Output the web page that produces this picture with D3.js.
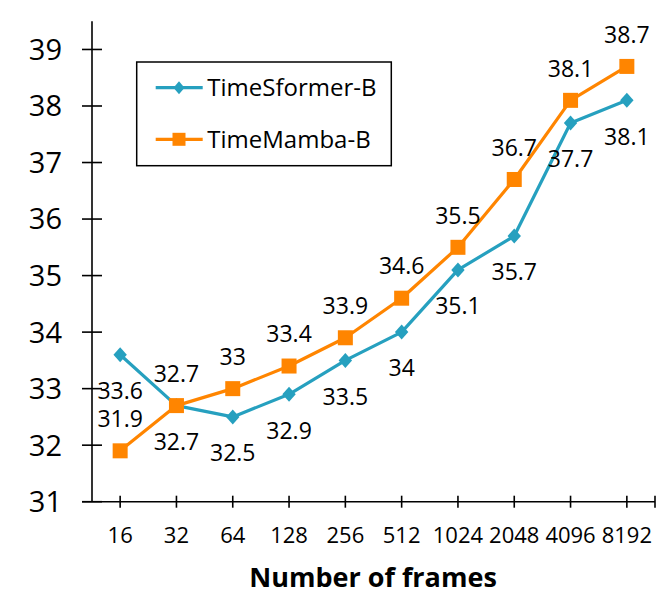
<!DOCTYPE html>
<html>
<head>
<meta charset="utf-8">
<script src="https://cdn.jsdelivr.net/npm/d3@7"></script>
<style>
html,body{margin:0;padding:0;background:#fff;}
svg{display:block;}
text{font-family:"Open Sans",sans-serif;fill:#000;}
</style>
</head>
<body>
<svg id="chart" width="664" height="608"></svg>
<script>
const categories = ["16","32","64","128","256","512","1024","2048","4096","8192"];
const timesformer = [33.6, 32.7, 32.5, 32.9, 33.5, 34, 35.1, 35.7, 37.7, 38.1];
const timemamba = [31.9, 32.7, 33, 33.4, 33.9, 34.6, 35.5, 36.7, 38.1, 38.7];
const yTicks = [31, 32, 33, 34, 35, 36, 37, 38, 39];
const seriesNames = ["TimeSformer-B", "TimeMamba-B"];
const colors = ["#26a0bf", "#ff8500"];

const svg = d3.select("#chart");
const x0 = 92, x1 = 655, yBottom = 501.7, yTop = 21.2;
const x = d3.scalePoint().domain(categories).range([x0, x1]).padding(0.5);
const y = d3.scaleLinear().domain([31, 39.5]).range([yBottom, yTop]);

// axes lines
svg.append("line").attr("x1", x0).attr("x2", x0).attr("y1", yTop).attr("y2", yBottom)
  .attr("stroke", "#000").attr("stroke-width", 1.6);
svg.append("line").attr("x1", x0 - 10).attr("x2", x1).attr("y1", yBottom).attr("y2", yBottom)
  .attr("stroke", "#000").attr("stroke-width", 1.6);

// y ticks
const yg = svg.append("g");
yTicks.forEach(t => {
  yg.append("line").attr("x1", x0 - 10).attr("x2", x0 + 10).attr("y1", y(t)).attr("y2", y(t))
    .attr("stroke", "#000").attr("stroke-width", 1.6);
  yg.append("text").attr("x", 62).attr("y", y(t)).attr("dy", "0.36em")
    .attr("text-anchor", "end").style("font-size", "29px").text(t);
});

// x ticks
const xg = svg.append("g");
const xTickPos = categories.map(c => x(c)).concat([x1]);
xTickPos.forEach(p => {
  xg.append("line").attr("x1", p).attr("x2", p).attr("y1", yBottom - 6).attr("y2", yBottom + 6)
    .attr("stroke", "#000").attr("stroke-width", 1.6);
});
categories.forEach(c => {
  xg.append("text").attr("x", x(c)).attr("y", 543).attr("text-anchor", "middle")
    .style("font-size", "22px").text(c);
});

// axis title
svg.append("text").attr("x", 373).attr("y", 587).attr("text-anchor", "middle")
  .style("font-size", "27px").style("font-weight", "bold").text("Number of frames");

const line = d3.line().x((d, i) => x(categories[i])).y(d => y(d));
const allSeries = [timesformer, timemamba];

allSeries.forEach((s, si) => {
  svg.append("path").datum(s).attr("d", line).attr("fill", "none")
    .attr("stroke", colors[si]).attr("stroke-width", 3.2).attr("stroke-linejoin", "round");
});

// markers
svg.append("g").selectAll("path").data(timesformer).join("path")
  .attr("transform", (d, i) => `translate(${x(categories[i])},${y(d)})`)
  .attr("d", "M0,-7.5L6.7,0L0,7.5L-6.7,0Z").attr("fill", colors[0]);
svg.append("g").selectAll("rect").data(timemamba).join("rect")
  .attr("x", (d, i) => x(categories[i]) - 7.5).attr("y", d => y(d) - 7.5)
  .attr("width", 15).attr("height", 15).attr("fill", colors[1]);

// data labels
svg.append("g").selectAll("text").data(timesformer).join("text")
  .attr("x", (d, i) => x(categories[i])).attr("y", d => y(d) + 36).attr("dy", "0.36em")
  .attr("text-anchor", "middle").style("font-size", "23px").text(d => d);
svg.append("g").selectAll("text").data(timemamba).join("text")
  .attr("x", (d, i) => x(categories[i])).attr("y", d => y(d) - 32).attr("dy", "0.36em")
  .attr("text-anchor", "middle").style("font-size", "23px").text(d => d);

// legend
const lg = svg.append("g");
lg.append("rect").attr("x", 136.7).attr("y", 62).attr("width", 254.6).attr("height", 103.7)
  .attr("fill", "#fff").attr("stroke", "#000").attr("stroke-width", 1.5);
const legY = [87.7, 139.3];
seriesNames.forEach((n, i) => {
  lg.append("line").attr("x1", 155.7).attr("x2", 202.7).attr("y1", legY[i]).attr("y2", legY[i])
    .attr("stroke", colors[i]).attr("stroke-width", 3.2);
  if (i === 0) {
    lg.append("path").attr("transform", `translate(179,${legY[i]})`)
      .attr("d", "M0,-6.5L5.5,0L0,6.5L-5.5,0Z").attr("fill", colors[i]);
  } else {
    lg.append("rect").attr("x", 179 - 6.5).attr("y", legY[i] - 6.5).attr("width", 13).attr("height", 13)
      .attr("fill", colors[i]);
  }
  lg.append("text").attr("x", 207.3).attr("y", legY[i]).attr("dy", "0.36em")
    .style("font-size", "24px").text(n);
});
</script>
</body>
</html>
